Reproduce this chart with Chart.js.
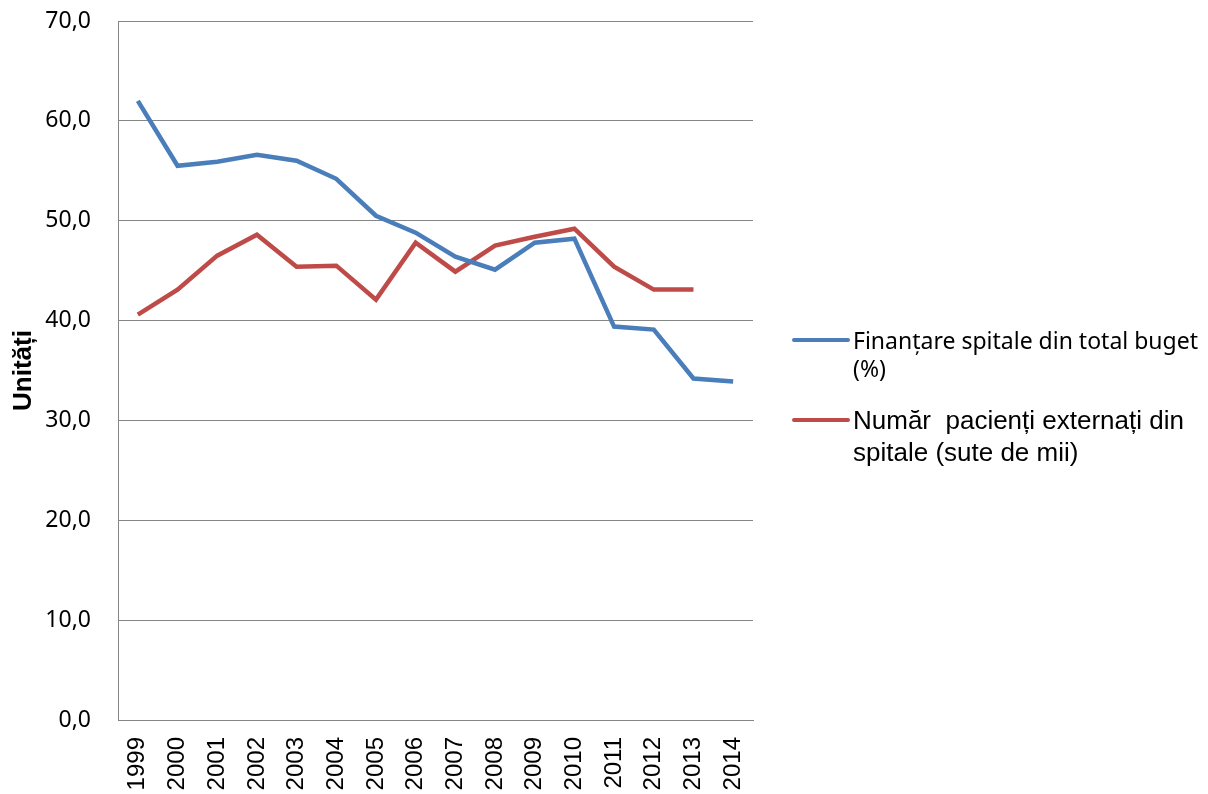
<!DOCTYPE html>
<html>
<head>
<meta charset="utf-8">
<script src="https://cdn.jsdelivr.net/npm/chart.js@4"></script>
<style>
    html, body { margin: 0; padding: 0; background: #fff; }
    #wrap { position: relative; width: 1208px; height: 794px; }
    #legend { position: absolute; left: 792px; top: 326px; width: 416px; }
    .item { position: relative; padding-left: 61px; color: #000; }
    .item .swatch { position: absolute; left: 0; width: 58px; height: 4px; border-radius: 2px; }
</style>
</head>
<body>
<div id="wrap">
    <canvas id="chart" width="1208" height="794"></canvas>
    <div id="legend"></div>
</div>
<script>
const years = ['1999', '2000', '2001', '2002', '2003', '2004', '2005', '2006',
               '2007', '2008', '2009', '2010', '2011', '2012', '2013', '2014'];

const finantare = [62.0, 55.5, 55.9, 56.6, 56.0, 54.2, 50.5, 48.8,
                   46.4, 45.1, 47.8, 48.2, 39.4, 39.1, 34.2, 33.9];

const pacienti = [40.6, 43.1, 46.5, 48.6, 45.4, 45.5, 42.1, 47.8,
                  44.9, 47.5, 48.4, 49.2, 45.4, 43.1, 43.1, null];

const yTicks = [0, 10, 20, 30, 40, 50, 60, 70];

const seriesNames = ['Finanțare spitale din total buget (%)',
                     'Număr  pacienți externați din spitale (sute de mii)'];
const seriesColors = ['#4A7EBB', '#BE4B48'];

const chart = initChart();
buildLegend();

function initChart() {
    const ctx = document.getElementById('chart');

    return new Chart(ctx, {
        type: 'line',
        data: {
            labels: years,
            datasets: [finantare, pacienti].map((data, i) => ({
                label: seriesNames[i],
                data: data,
                borderColor: seriesColors[i],
                backgroundColor: seriesColors[i],
                borderWidth: 4.5,
                pointRadius: 0,
                tension: 0,
                fill: false,
                spanGaps: false
            }))
        },
        options: {
            animation: false,
            responsive: false,
            layout: {
                padding: { top: 21, right: 455, bottom: 0, left: 8 }
            },
            plugins: {
                legend: { display: false },
                tooltip: { enabled: false }
            },
            scales: {
                x: {
                    offset: true,
                    grid: { display: false, drawTicks: false },
                    border: { color: '#868686', width: 1 },
                    ticks: {
                        color: '#000',
                        font: { family: '"Liberation Sans", Arial', size: 24 },
                        minRotation: 90,
                        maxRotation: 90,
                        autoSkip: false,
                        padding: 17
                    },
                    afterFit: scale => { scale.height = 74; }
                },
                y: {
                    min: 0,
                    max: 70,
                    afterBuildTicks: axis => {
                        axis.ticks = yTicks.map(v => ({ value: v }));
                    },
                    grid: {
                        color: '#868686',
                        lineWidth: 1,
                        drawTicks: true,
                        tickLength: 27,
                        tickColor: 'rgba(0,0,0,0)'
                    },
                    border: { color: '#868686', width: 1 },
                    ticks: {
                        color: '#000',
                        font: { family: '"Noto Sans"', size: 23 },
                        padding: 0,
                        callback: v => v.toFixed(1).replace('.', ',')
                    },
                    title: {
                        display: true,
                        text: 'Unități',
                        color: '#000',
                        font: { family: '"Liberation Sans", Arial', size: 26, weight: 'bold' },
                        padding: { top: 0, bottom: 4 }
                    },
                    afterFit: scale => { scale.width = 110; }
                }
            }
        }
    });
}

function buildLegend() {
    const box = document.getElementById('legend');
    const fonts = ['23px "Noto Sans"', '26px "Liberation Sans", Arial'];
    const lineHeights = [28, 32];
    const gaps = [22, 0];
    seriesNames.forEach((name, i) => {
        const item = document.createElement('div');
        item.className = 'item';
        item.style.font = fonts[i];
        item.style.lineHeight = lineHeights[i] + 'px';
        item.style.marginBottom = gaps[i] + 'px';
        item.style.whiteSpace = 'pre-wrap';
        const sw = document.createElement('span');
        sw.className = 'swatch';
        sw.style.background = seriesColors[i];
        sw.style.top = (lineHeights[i] / 2 - 2) + 'px';
        item.appendChild(sw);
        item.appendChild(document.createTextNode(name));
        box.appendChild(item);
    });
}
</script>
</body>
</html>
